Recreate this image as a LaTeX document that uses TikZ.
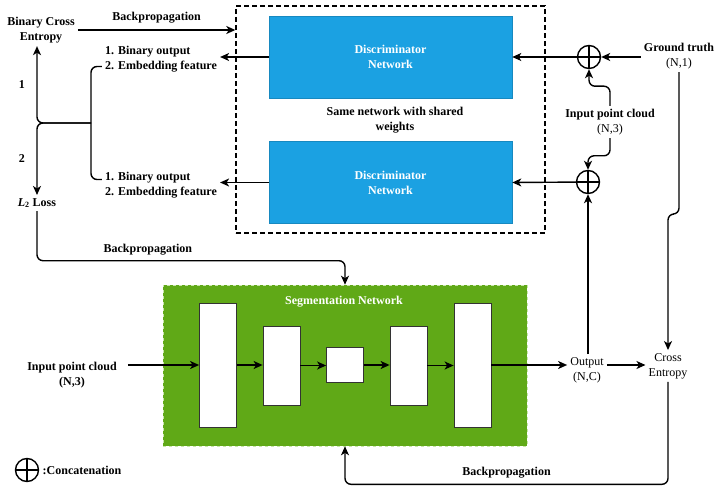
\documentclass[tikz,border=0pt]{standalone}
\usepackage{fontspec}
\setmainfont{Liberation Serif}
\usepackage{tikz}
\newcommand{\discwidth}{243pt}
\newcommand{\discheight}{82pt}
\newcommand{\catsize}{23pt}
\definecolor{discBlue}{RGB}{27,161,226}
\definecolor{segGreen}{RGB}{96,169,23}
\definecolor{segEdge}{RGB}{200,230,170}
\usetikzlibrary{arrows.meta,calc,positioning}
\tikzset{
  >={Stealth[length=9pt,width=8pt,inset=2.5pt]},
  font=\bfseries\fontsize{12}{15}\selectfont,
  txt/.style={align=center,inner sep=3pt},
  plain/.style={txt,font=\fontsize{12}{15}\selectfont},
  disc/.style={draw=discBlue!85!black,line width=0.6pt,fill=discBlue,text=white,align=center,minimum width=\discwidth,minimum height=\discheight},
  block/.style={draw=black!80,fill=white,line width=0.8pt,minimum width=37pt},
  line/.style={draw,->,line width=1.4pt,rounded corners=6pt},
  concat/.style={draw,shape=circle,line width=1.4pt,minimum size=\catsize,inner sep=0,
    path picture={\draw[line width=1.4pt] (path picture bounding box.north) -- (path picture bounding box.south)
      (path picture bounding box.west) -- (path picture bounding box.east);}},
}

\begin{document}
\begin{tikzpicture}[x=1pt,y=-1pt]
  \useasboundingbox (0,0) rectangle (717,489);
  % discriminator part
  \node (dbox) [draw,line width=1.4pt,dash pattern=on 5pt off 3pt,minimum width=309pt,minimum height=227pt] at (390.5,119.5) {};
  \node (disc1) [disc] at (390.5,57) {Discriminator\\Network};
  \node (disc2) [disc] at (390.5,182.5) {Discriminator\\Network};
  \node (shared) [txt] at (395,120) {Same network with shared\\weights};
  \node (cat1) [concat] at (589,57) {};
  \node (cat2) [concat] at (588,182) {};
  \node (gt) [txt] at (679,56) {Ground truth\\{\mdseries(N,1)}};
  \node (ipc) [txt] at (610,122) {Input point cloud\\{\mdseries(N,3)}};
  \node (out1) [txt,align=left] at (161,59.5) {1. Binary output\\2. Embedding feature};
  \node (out2) [txt,align=left] at (161,185.5) {1. Binary output\\2. Embedding feature};
  \node (bce) [txt] at (41,30) {Binary Cross\\Entropy};
  \node (l2) [txt] at (37,203) {\textit{L}\textsubscript{2} Loss};
  % segmentation part
  \node (seg) [draw=segEdge,dashed,line width=0.6pt,fill=segGreen,minimum width=364pt,minimum height=161pt] at (345,365.5) {};
  \node (segtitle) [text=white] at (344,302) {Segmentation Network};
  \node (b1) [block,minimum height=124pt] at (218,365) {};
  \node (b2) [block,minimum height=79pt] at (281.5,365.5) {};
  \node (b3) [block,minimum height=35pt] at (345,365) {};
  \node (b4) [block,minimum height=79pt] at (408.5,365.5) {};
  \node (b5) [block,minimum height=124pt] at (472.5,365) {};
  \node (inp) [txt] at (72,375) {Input point cloud\\(N,3)};
  \node (outp) [plain] at (587,370) {Output\\(N,C)};
  \node (ce) [plain] at (668,366) {Cross\\Entropy};
  % legend
  \node (legcat) [concat] at (27,470) {};
  \node (legtxt) [right=0pt of legcat] {:Concatenation};

  % connectors of the discriminator
  \path [line] (bce.east) -- (bce.east -| dbox.west) node[midway,above=3pt]{Backpropagation};
  \path [line] (gt.west |- cat1) -- (cat1);
  \path [line] (ipc.north) |- ($(cat1.south)+(0,17)$) -- (cat1.south);
  \path [line] (ipc.south) |- ($(cat2.north)+(0,-14)$) -- (cat2.north);
  \path [line] (outp.north -| cat2) -- (cat2.south);
  \path [line] (cat1) -- (disc1.east);
  \path [line] (cat2) -- (disc2.east);
  \path [line] (disc1.west) -- (disc1.west -| out1.east);
  \path [line] (disc2.west) -- (disc2.west -| out2.east);
  % bracket and the two losses
  \coordinate (brk) at (91,123);
  \coordinate (junc) at (37,123);
  \path [line,-] ($(out1.west)+(0,7)$) -| (brk) |- ($(out2.west)+(0,-6)$);
  \path [line] (brk) -| (bce.south -| junc) node[pos=0.75,left=8pt]{1};
  \path [line] (brk) -| (l2.north -| junc) node[pos=0.75,left=8pt]{2};
  \path [line] (l2.south) |- ($(seg.north)+(0,-24)$) node[pos=0.68,above=2pt]{Backpropagation} -- (seg.north);
  % connectors of the segmentation
  \path [line] (inp.east |- b1) ++(8,0) -- (b1.west);
  \path [line] (b1.east) -- (b2.west |- b1.east);
  \path [line] (b2.east) -- (b3.west |- b2.east);
  \path [line] (b3.east) -- (b4.west |- b3.east);
  \path [line] (b4.east) -- (b5.west |- b4.east);
  \path [line] (b5.east) -- (b5.east -| outp.west);
  \path [line] (outp.east |- b5) -- (ce.west |- b5);
  \path [line] (gt.south) |- ($(ce.north)+(0,-136)$) -- (ce.north);
  \path [line] (ce.south) |- ($(seg.south)+(0,38)$) node[pos=0.75,above=2pt]{Backpropagation} -- (seg.south);
\end{tikzpicture}
\end{document}
